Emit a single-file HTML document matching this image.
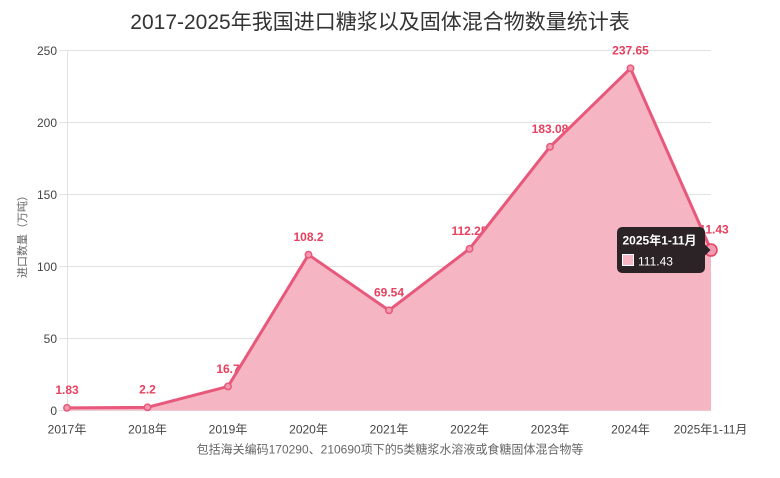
<!DOCTYPE html>
<html><head><meta charset="utf-8"><style>
html,body{margin:0;padding:0;background:#fff;}
svg{display:block;}
text{font-family:"Liberation Sans","Noto Sans CJK SC",sans-serif;}
</style></head><body>
<svg width="780" height="478" viewBox="0 0 780 478" xmlns="http://www.w3.org/2000/svg">
<!-- title -->
<text x="380" y="29" text-anchor="middle" font-size="21" fill="#333">2017-2025年我国进口糖浆以及固体混合物数量统计表</text>

<!-- gridlines -->
<g stroke="#e2e2e2" stroke-width="1">
<line x1="59" y1="50.5" x2="711" y2="50.5"/>
<line x1="59" y1="122.5" x2="711" y2="122.5"/>
<line x1="59" y1="194.5" x2="711" y2="194.5"/>
<line x1="59" y1="266.5" x2="711" y2="266.5"/>
<line x1="59" y1="338.5" x2="711" y2="338.5"/>
<line x1="59" y1="410.5" x2="711" y2="410.5"/>
<line x1="67.5" y1="50" x2="67.5" y2="411"/>
</g>

<!-- y tick labels -->
<g font-size="12" fill="#444" text-anchor="end">
<text x="57" y="54.8">250</text>
<text x="57" y="126.8">200</text>
<text x="57" y="198.8">150</text>
<text x="57" y="270.8">100</text>
<text x="57" y="342.8">50</text>
<text x="57" y="414.8">0</text>
</g>

<!-- y axis title -->
<text transform="translate(26,234) rotate(-90)" text-anchor="middle" font-size="11" fill="#666">进口数量（万吨）</text>

<!-- x labels -->
<g font-size="12" fill="#444" text-anchor="middle">
<text x="67" y="433.5">2017年</text>
<text x="147.5" y="433.5">2018年</text>
<text x="228" y="433.5">2019年</text>
<text x="308.5" y="433.5">2020年</text>
<text x="389" y="433.5">2021年</text>
<text x="469.5" y="433.5">2022年</text>
<text x="550" y="433.5">2023年</text>
<text x="630.5" y="433.5">2024年</text>
<text x="710.5" y="433.5">2025年1-11月</text>
</g>

<!-- subtitle -->
<text x="390" y="453.3" text-anchor="middle" font-size="12" fill="#666">包括海关编码170290、210690项下的5类糖浆水溶液或食糖固体混合物等</text>

<!-- data labels (drawn under the series) -->
<g font-size="12" font-weight="bold" fill="#e8405f" text-anchor="middle">
<text x="67" y="394.2">1.83</text>
<text x="147.5" y="393.6">2.2</text>
<text x="228" y="372.8">16.7</text>
<text x="308.5" y="241">108.2</text>
<text x="389" y="296.7">69.54</text>
<text x="469.5" y="235.2">112.25</text>
<text x="550" y="133.2">183.08</text>
<text x="630.5" y="54.6">237.65</text>
<text x="711" y="233.3">111.43</text>
</g>

<!-- area -->
<path d="M67,407.86 L147.5,407.33 L228,386.45 L308.5,254.69 L389,310.36 L469.5,248.86 L550,146.86 L630.5,68.28 L711,250.04 L711,410.5 L67,410.5 Z" fill="#f6b5c3"/>
<path d="M67,407.86 L147.5,407.33 L228,386.45 L308.5,254.69 L389,310.36 L469.5,248.86 L550,146.86 L630.5,68.28 L711,250.04" fill="none" stroke="#e8587a" stroke-width="3" stroke-linejoin="round"/>

<!-- points -->
<g fill="#f49ab0" stroke="#e8587a" stroke-width="1.5">
<circle cx="67" cy="407.86" r="3.2"/>
<circle cx="147.5" cy="407.33" r="3.2"/>
<circle cx="228" cy="386.45" r="3.2"/>
<circle cx="308.5" cy="254.69" r="3.2"/>
<circle cx="389" cy="310.36" r="3.2"/>
<circle cx="469.5" cy="248.86" r="3.2"/>
<circle cx="550" cy="146.86" r="3.2"/>
<circle cx="630.5" cy="68.28" r="3.2"/>
</g>
<circle cx="711" cy="250.04" r="6" fill="#f49ab0" stroke="#e8405f" stroke-width="1.5"/>

<!-- tooltip -->
<path d="M623,227 H699 Q705,227 705,233 V244.5 L710.5,250 L705,255.5 V267 Q705,273 699,273 H623 Q617,273 617,267 V233 Q617,227 623,227 Z" fill="#2b2326"/>
<text x="622.5" y="244.3" font-size="12" font-weight="bold" fill="#fff">2025年1-11月</text>
<rect x="622.5" y="254.5" width="11" height="11" fill="#f7b6c4" stroke="#fff" stroke-width="1"/>
<text x="638" y="265.3" font-size="12" fill="#fff">111.43</text>
</svg>
</body></html>
